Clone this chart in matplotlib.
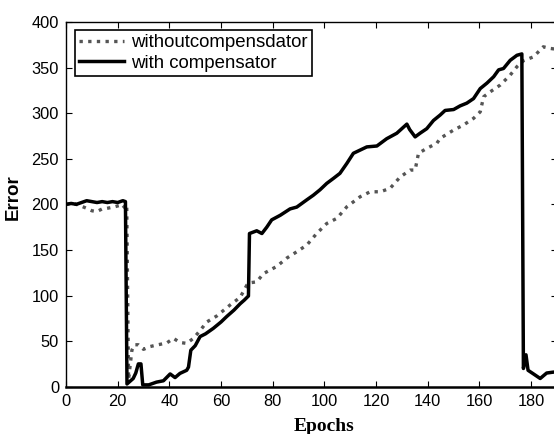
import matplotlib
matplotlib.use("Agg")
import matplotlib.pyplot as plt

# with compensator (solid black)
comp_epochs = [0, 2, 4, 6, 8, 10, 12, 14, 16, 18, 20, 22, 23, 23.6, 26, 27, 28, 29,
               29.7, 32, 35, 37.7, 40.3, 42.2, 44.1, 46.7, 47.4, 48.3, 50, 51.9, 54,
               57, 60, 62.2, 65, 67.4, 69, 70.6, 71, 73.8, 75.8, 77.7, 79.6, 82.9,
               86.7, 89.3, 93.2, 95.7, 98.3, 100.9, 103.5, 106, 108.7, 111.2, 113.8,
               116.4, 120.3, 124.1, 128, 131.9, 133, 135.1, 137, 139.6, 142.2, 144.8,
               146.7, 150, 152.5, 155.1, 157.7, 160.3, 162.9, 165.5, 167.4, 169.3,
               171.9, 174.5, 176.4, 177, 178, 178.8, 180.9, 183.5, 186, 188.6, 190]
comp_error = [200, 201, 200, 202, 204, 203, 202, 203, 202, 203, 202, 204, 203, 3, 9, 15,
              25, 25, 2, 2, 5, 6.5, 14, 10, 14.6, 18, 21.5, 40, 45, 55, 58, 64, 71, 77,
              84, 91, 95, 99.5, 168, 171, 168, 175, 183, 188, 195, 197, 205, 210, 216,
              223, 228.5, 234, 245, 256, 259.5, 263, 264, 272, 278, 288, 282, 274, 278,
              283, 292, 298, 303, 304, 308, 311, 316, 327, 333, 340, 347.5, 349, 358,
              363.5, 365, 20, 35, 18, 14, 9, 15, 16, 16]

# without compensator (grey dotted)
nocomp_epochs = [0, 3, 6, 8, 10, 11.9, 14, 15.8, 18.4, 21, 22, 23.5, 24.2, 25.5, 26.5,
                 28, 30, 32.5, 35.1, 39, 41.6, 44.1, 46.7, 49.3, 52, 54.5, 58.3, 63.5,
                 67.4, 70, 71.2, 73.8, 76.4, 77.7, 81.6, 85.4, 89.3, 93.2, 97, 100.9,
                 104.8, 108.7, 113.8, 117.7, 121.6, 125.4, 129.3, 133.2, 135.1, 136.4,
                 139.6, 143.5, 144.8, 150, 153.8, 157.7, 160.3, 161.6, 164.2, 168,
                 171.9, 174.5, 177, 180.9, 184.7, 187.4, 190]
nocomp_error = [200, 201, 198, 195.6, 193, 192, 195, 195.6, 197, 199, 196, 200, 8, 40,
                46, 46, 41, 44, 45.7, 48, 53, 48.5, 47.5, 53, 62, 71, 77.5, 89.6, 98,
                111.5, 114, 115, 124, 126, 132, 141, 148, 155.4, 168, 179, 184.6, 197.4,
                208.3, 213.8, 213.8, 217.5, 230, 237.6, 237.6, 256, 261.4, 267, 272.4,
                281.5, 287, 294.3, 301.5, 318, 323.5, 330.8, 341.8, 351, 357.5, 361.8,
                372.8, 371, 370]

x_ticks = [0, 20, 40, 60, 80, 100, 120, 140, 160, 180]
y_ticks = [0, 50, 100, 150, 200, 250, 300, 350, 400]

plt.rcParams["font.family"] = ["Liberation Sans", "DejaVu Sans"]

fig = plt.figure(figsize=(5.54, 4.34), dpi=100)
ax = fig.add_axes([66 / 554, 1 - 386.7 / 434, (557 - 66) / 554, (386.7 - 22) / 434])

ax.plot(nocomp_epochs, nocomp_error, color="#555555", linewidth=2.4,
        linestyle=(0, (1, 1.6)), label="withoutcompensdator")
ax.plot(comp_epochs, comp_error, color="black", linewidth=2.5,
        label="with compensator")

ax.set_xlim(0, 190)
ax.set_ylim(0, 400)
ax.set_xticks(x_ticks)
ax.set_yticks(y_ticks)
ax.tick_params(direction="in", length=4.5, width=0.8, top=True, right=True,
               labelsize=11.8, pad=5)

for side in ["left", "top", "right"]:
    ax.spines[side].set_linewidth(1.0)
ax.spines["bottom"].set_linewidth(1.8)

ax.set_xlabel("Epochs", family=["Liberation Serif"], fontweight="bold", fontsize=14)
ax.xaxis.set_label_coords(100 / 190, -0.085)
ax.set_ylabel("Error", fontweight="bold", fontsize=13.5)
ax.yaxis.set_label_coords(-0.09, 0.52)

legend = ax.legend(loc="upper left", bbox_to_anchor=(0.018, 0.978),
                   borderaxespad=0, fontsize=13.4, handlelength=2.4,
                   handletextpad=0.4, labelspacing=0.2, borderpad=0.22,
                   fancybox=False, framealpha=1, edgecolor="black")
legend.get_frame().set_linewidth(1.2)

fig.savefig("out.png", dpi=100)
